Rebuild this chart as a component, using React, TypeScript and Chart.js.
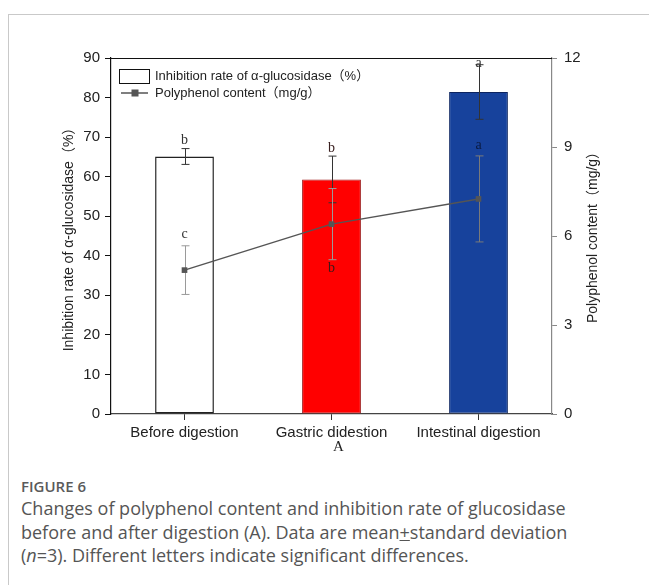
import React, { useEffect, useRef } from "react";
import { Chart, registerables } from "chart.js";

Chart.register(...registerables);

// Digestion stages and measured values (mean ± SD, n = 3)
const categories = ["Before digestion", "Gastric didestion", "Intestinal digestion"];
const inhibitionRate = [65.1, 59.3, 81.4];
const inhibitionSd = [2.0, 5.9, 6.9];
const inhibitionLetters = ["b", "b", "a"];
const polyphenol = [4.85, 6.4, 7.25];
const polyphenolSd = [0.82, 1.2, 1.45];
const polyphenolLetters = ["c", "b", "a"];
const polyphenolLetterSide = ["above", "below", "above"];

const barFill = ["#ffffff", "#ff0000", "#17429c"];
const barEdge = ["#222222", "#9a1010", "#0c2460"];

const SANS = '"Liberation Sans", "Noto Sans CJK SC", sans-serif';
const SERIF = '"Liberation Serif", "DejaVu Serif", serif';

const leftTitle = "Inhibition rate of α-glucosidase（%）";
const rightTitle = "Polyphenol content（mg/g）";
const legendBar = "Inhibition rate of α-glucosidase（%）";
const legendLine = "Polyphenol content（mg/g）";
const panelMark = "A";

const overlay = {
  id: "overlay",
  beforeDatasetDraw(chart: any, args: any) {
    if (args.index !== 1) return;
    const ctx = chart.ctx;
    const xs = chart.scales.x;
    const ys = chart.scales.y;
    const ys1 = chart.scales.y1;
    const cap = 4;
    const err = (cx: number, v: number, e: number, scale: any, color: string) => {
      const t = scale.getPixelForValue(v + e);
      const b = scale.getPixelForValue(v - e);
      ctx.strokeStyle = color;
      ctx.lineWidth = 1;
      ctx.beginPath();
      ctx.moveTo(cx, t);
      ctx.lineTo(cx, b);
      ctx.moveTo(cx - cap, t);
      ctx.lineTo(cx + cap, t);
      ctx.moveTo(cx - cap, b);
      ctx.lineTo(cx + cap, b);
      ctx.stroke();
    };
    ctx.save();
    categories.forEach((_, i) => {
      const cx = Math.round(xs.getPixelForValue(i)) + 0.5;
      err(cx, inhibitionRate[i], inhibitionSd[i], ys, "#333333");
      err(cx, polyphenol[i], polyphenolSd[i], ys1, i === 2 ? "#7a7a7a" : "#9a9a9a");
    });
    ctx.restore();
  },
  afterDatasetsDraw(chart: any) {
    const ctx = chart.ctx;
    const { left, right, top, bottom } = chart.chartArea;
    const xs = chart.scales.x;
    const ys = chart.scales.y;
    const ys1 = chart.scales.y1;
    ctx.save();

    // closing frame line along the top
    ctx.strokeStyle = "#111111";
    ctx.lineWidth = 1.2;
    ctx.beginPath();
    ctx.moveTo(left, top + 0.5);
    ctx.lineTo(right, top + 0.5);
    ctx.stroke();

    // significance letters
    ctx.font = `14px ${SERIF}`;
    ctx.textAlign = "center";
    ctx.textBaseline = "middle";
    categories.forEach((_, i) => {
      const cx = xs.getPixelForValue(i);
      const bt = ys.getPixelForValue(inhibitionRate[i] + inhibitionSd[i]);
      ctx.fillStyle = i === 1 ? "#3a2020" : "#333333";
      ctx.fillText(inhibitionLetters[i], cx, Math.max(top + 5, bt - 8));
      ctx.fillStyle = i === 0 ? "#333333" : i === 1 ? "#3a1a1a" : "#0a1a40";
      if (polyphenolLetterSide[i] === "above") {
        const pt = ys1.getPixelForValue(polyphenol[i] + polyphenolSd[i]);
        ctx.fillText(polyphenolLetters[i], cx, pt - 11);
      } else {
        const pb = ys1.getPixelForValue(polyphenol[i] - polyphenolSd[i]);
        ctx.fillText(polyphenolLetters[i], cx, pb + 9);
      }
    });

    // legend
    ctx.strokeStyle = "#111111";
    ctx.lineWidth = 1;
    ctx.strokeRect(left + 8.5, top + 11.5, 30, 14);
    ctx.strokeStyle = "#555555";
    ctx.lineWidth = 1.5;
    ctx.beginPath();
    ctx.moveTo(left + 10, top + 35);
    ctx.lineTo(left + 37, top + 35);
    ctx.stroke();
    ctx.fillStyle = "#555555";
    ctx.fillRect(left + 20.5, top + 31.5, 7, 7);
    ctx.fillStyle = "#222222";
    ctx.font = `13px ${SANS}`;
    ctx.textAlign = "left";
    ctx.fillText(legendBar, left + 44, top + 18.5);
    ctx.fillText(legendLine, left + 44, top + 35);

    // axis titles
    ctx.font = `14px ${SANS}`;
    ctx.textAlign = "center";
    ctx.fillStyle = "#222222";
    const midY = (top + bottom) / 2;
    ctx.save();
    ctx.translate(left - 42, midY);
    ctx.rotate(-Math.PI / 2);
    ctx.fillText(leftTitle, 0, 0);
    ctx.restore();
    ctx.save();
    ctx.translate(right + 41, midY - 2);
    ctx.rotate(-Math.PI / 2);
    ctx.fillText(rightTitle, 0, 0);
    ctx.restore();

    // panel mark under the category labels
    ctx.font = `15px ${SERIF}`;
    ctx.fillStyle = "#222222";
    ctx.fillText(panelMark, (left + right) / 2 + 7, bottom + 33);

    ctx.restore();
  },
};

export default function App() {
  const canvasRef = useRef<HTMLCanvasElement | null>(null);

  useEffect(() => {
    const canvas = canvasRef.current;
    if (!canvas) return;
    const tickFont = { family: SANS, size: 15 };
    const chart = new Chart(canvas, {
      type: "bar",
      data: {
        labels: categories,
        datasets: [
          {
            type: "bar",
            label: "Inhibition rate of α-glucosidase",
            data: inhibitionRate,
            yAxisID: "y",
            backgroundColor: barFill,
            borderColor: barEdge,
            borderWidth: [1.5, 1, 1],
            borderSkipped: false,
            categoryPercentage: 1,
            barPercentage: 0.4,
            order: 2,
          },
          {
            type: "line",
            label: "Polyphenol content",
            data: polyphenol,
            yAxisID: "y1",
            borderColor: "#555555",
            borderWidth: 1.5,
            backgroundColor: "#555555",
            pointStyle: "rect",
            pointRadius: 4,
            pointBackgroundColor: "#555555",
            pointBorderColor: "#555555",
            pointBorderWidth: 0,
            fill: false,
            tension: 0,
            order: 1,
          },
        ],
      },
      options: {
        responsive: false,
        animation: false,
        devicePixelRatio: 1,
        layout: { padding: { top: 58, left: 0, right: 0, bottom: 0 } },
        plugins: {
          legend: { display: false },
          tooltip: { enabled: false },
          title: { display: false },
        },
        scales: {
          x: {
            type: "category",
            offset: true,
            grid: {
              display: true,
              drawOnChartArea: false,
              offset: false,
              tickLength: 6,
              color: "#333333",
            },
            border: { display: true, color: "#444444", width: 1.2 },
            ticks: { font: tickFont, color: "#222222", padding: 4, maxRotation: 0 },
            afterFit: (s: any) => {
              s.height = 46;
            },
          },
          y: {
            type: "linear",
            position: "left",
            min: 0,
            max: 90,
            ticks: { stepSize: 10, font: tickFont, color: "#222222", padding: 5 },
            grid: { display: true, drawOnChartArea: false, tickLength: 6, color: "#111111" },
            border: { display: true, color: "#111111", width: 1.2 },
            afterFit: (s: any) => {
              s.width = 111;
            },
          },
          y1: {
            type: "linear",
            position: "right",
            min: 0,
            max: 12,
            ticks: { stepSize: 3, font: tickFont, color: "#222222", padding: 7 },
            grid: { display: true, drawOnChartArea: false, tickLength: 5, color: "#888888" },
            border: { display: true, color: "#888888", width: 1.2 },
            afterFit: (s: any) => {
              s.width = 97;
            },
          },
        },
      },
      plugins: [overlay],
    } as any);
    return () => chart.destroy();
  }, []);

  return (
    <>
      <div
        style={{
          position: "fixed",
          left: 8,
          top: 14,
          width: 641,
          height: 571,
          borderLeft: "1px solid #c9c9c9",
          borderTop: "1px solid #c9c9c9",
          boxSizing: "border-box",
          background: "#ffffff",
        }}
      />
      <canvas
        ref={canvasRef}
        width={649}
        height={460}
        style={{ position: "fixed", left: 0, top: 0, width: 649, height: 460 }}
      />
      <div
        style={{
          position: "fixed",
          left: 21,
          top: 476,
          width: 625,
          fontFamily: '"Open Sans", sans-serif',
          color: "#555555",
        }}
      >
        <div style={{ fontSize: 15, fontWeight: 600, lineHeight: "21px", color: "#5a5a5a" }}>FIGURE 6</div>
        <div style={{ fontSize: 18, lineHeight: "23.5px", marginTop: 0, whiteSpace: "nowrap" }}>
          Changes of polyphenol content and inhibition rate of glucosidase
          <br />
          before and after digestion (A). Data are mean
          <span style={{ textDecoration: "underline" }}>+</span>standard deviation
          <br />(<i>n</i>=3). Different letters indicate significant differences.
        </div>
      </div>
    </>
  );
}
